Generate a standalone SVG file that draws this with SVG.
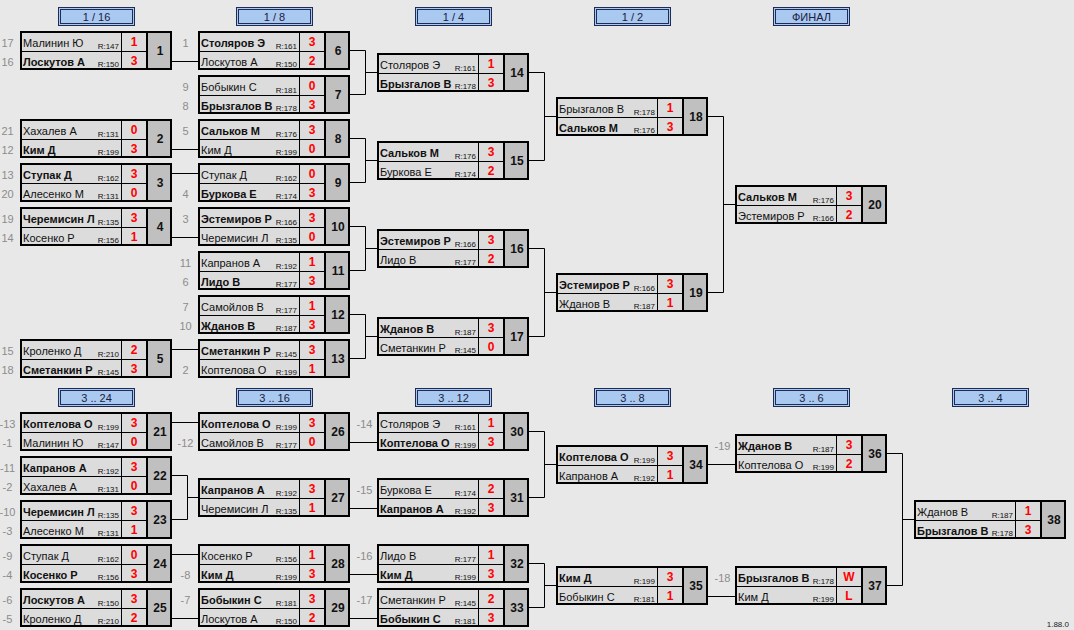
<svg xmlns="http://www.w3.org/2000/svg" xmlns:xlink="http://www.w3.org/1999/xlink" width="1074" height="630" viewBox="0 0 1074 630">
<style>
text{font-family:"Liberation Sans",Arial,sans-serif}
.n{font-size:11px;fill:#111}
.b{font-weight:bold}
.r{font-size:8px;fill:#111;text-anchor:end}
.s{font-size:12px;font-weight:bold;fill:#ff0000;text-anchor:middle}
.k{font-size:12px;font-weight:bold;fill:#111;text-anchor:middle}
.sd{font-size:11px;fill:#8c8c8c;text-anchor:middle}
.h{font-size:11px;fill:#1a2040;text-anchor:middle}
.con{fill:none;stroke:#000;stroke-width:1}
.ho{fill:#a9c9f0;stroke:#1e2c55;stroke-width:1}
.hi{fill:none;stroke:#1e2c55;stroke-width:1}
</style>
<defs>
<g id="box">
<rect x="0" y="0" width="127" height="39" fill="#dcdcdc"/>
<rect x="127" y="0" width="25" height="39" fill="#c0c0c0"/>
<path d="M101.5 0V39M0 20.5H127" stroke="#000" stroke-width="1"/>
<path d="M127 0V39" stroke="#000" stroke-width="2"/>
<rect x="1" y="1" width="150" height="37" fill="none" stroke="#000" stroke-width="2"/>
</g>
<g id="hdr">
<rect class="ho" x="0.5" y="0.5" width="76" height="18"/>
<rect class="hi" x="2.5" y="2.5" width="72" height="14"/>
</g>
</defs>
<rect x="0" y="0" width="1074" height="630" fill="#e8e8e8"/>

<g id="headers">
<g transform="translate(58,7)"><use href="#hdr"/><text class="h" x="38.5" y="13.5">1 / 16</text></g>
<g transform="translate(236,7)"><use href="#hdr"/><text class="h" x="38.5" y="13.5">1 / 8</text></g>
<g transform="translate(415,7)"><use href="#hdr"/><text class="h" x="38.5" y="13.5">1 / 4</text></g>
<g transform="translate(594,7)"><use href="#hdr"/><text class="h" x="38.5" y="13.5">1 / 2</text></g>
<g transform="translate(773,7)"><use href="#hdr"/><text class="h" x="38.5" y="13.5">ФИНАЛ</text></g>
<g transform="translate(58,388)"><use href="#hdr"/><text class="h" x="38.5" y="13.5">3 .. 24</text></g>
<g transform="translate(236,388)"><use href="#hdr"/><text class="h" x="38.5" y="13.5">3 .. 16</text></g>
<g transform="translate(415,388)"><use href="#hdr"/><text class="h" x="38.5" y="13.5">3 .. 12</text></g>
<g transform="translate(594,388)"><use href="#hdr"/><text class="h" x="38.5" y="13.5">3 .. 8</text></g>
<g transform="translate(773,388)"><use href="#hdr"/><text class="h" x="38.5" y="13.5">3 .. 6</text></g>
<g transform="translate(952,388)"><use href="#hdr"/><text class="h" x="38.5" y="13.5">3 .. 4</text></g>
</g>

<g id="connectors">
<path class="con" d="M172 61.5H198M172 149.5H198M172 173.5H198M172 237.5H198M172 349.5H198"/>
<path class="con" d="M350 50.5H365.5V94.5H350M365.5 72.5H377M350 138.5H365.5V182.5H350M365.5 160.5H377M350 226.5H365.5V270.5H350M365.5 248.5H377M350 314.5H365.5V358.5H350M365.5 336.5H377"/>
<path class="con" d="M529 72.5H544.5V160.5H529M544.5 116.5H556M529 248.5H544.5V336.5H529M544.5 292.5H556"/>
<path class="con" d="M708 116.5H723.5V292.5H708M723.5 204.5H735"/>
<path class="con" d="M172 422.5H198M172 475.5H187.5V519.5H172M187.5 497.5H198M172 554.5H198M172 618.5H198"/>
<path class="con" d="M350 442.5H377M350 508.5H377M350 574.5H377M350 618.5H377"/>
<path class="con" d="M529 431.5H544.5V497.5H529M544.5 464.5H556M529 563.5H544.5V607.5H529M544.5 585.5H556"/>
<path class="con" d="M708 464.5H735M708 596.5H735"/>
<path class="con" d="M887 453.5H902.5V585.5H887M902.5 519.5H914"/>
</g>

<g id="m1" transform="translate(20,31)"><use href="#box"/>
<text class="sd" x="-12.5" y="15.5">17</text><text class="sd" x="-12.5" y="34.5">16</text>
<text class="n" x="3" y="15.5">Малинин Ю</text><text class="r" x="99" y="17.5">R:147</text><text class="s" x="114" y="15">1</text>
<text class="n b" x="3" y="34.5">Лоскутов А</text><text class="r" x="99" y="36">R:150</text><text class="s" x="114" y="34">3</text>
<text class="k" x="140" y="24">1</text></g>

<g id="m2" transform="translate(20,119)"><use href="#box"/>
<text class="sd" x="-12.5" y="15.5">21</text><text class="sd" x="-12.5" y="34.5">12</text>
<text class="n" x="3" y="15.5">Хахалев А</text><text class="r" x="99" y="17.5">R:131</text><text class="s" x="114" y="15">0</text>
<text class="n b" x="3" y="34.5">Ким Д</text><text class="r" x="99" y="36">R:199</text><text class="s" x="114" y="34">3</text>
<text class="k" x="140" y="24">2</text></g>

<g id="m3" transform="translate(20,163)"><use href="#box"/>
<text class="sd" x="-12.5" y="15.5">13</text><text class="sd" x="-12.5" y="34.5">20</text>
<text class="n b" x="3" y="15.5">Ступак Д</text><text class="r" x="99" y="17.5">R:162</text><text class="s" x="114" y="15">3</text>
<text class="n" x="3" y="34.5">Алесенко М</text><text class="r" x="99" y="36">R:131</text><text class="s" x="114" y="34">0</text>
<text class="k" x="140" y="24">3</text></g>

<g id="m4" transform="translate(20,207)"><use href="#box"/>
<text class="sd" x="-12.5" y="15.5">19</text><text class="sd" x="-12.5" y="34.5">14</text>
<text class="n b" x="3" y="15.5">Черемисин Л</text><text class="r" x="99" y="17.5">R:135</text><text class="s" x="114" y="15">3</text>
<text class="n" x="3" y="34.5">Косенко Р</text><text class="r" x="99" y="36">R:156</text><text class="s" x="114" y="34">1</text>
<text class="k" x="140" y="24">4</text></g>

<g id="m5" transform="translate(20,339)"><use href="#box"/>
<text class="sd" x="-12.5" y="15.5">15</text><text class="sd" x="-12.5" y="34.5">18</text>
<text class="n" x="3" y="15.5">Кроленко Д</text><text class="r" x="99" y="17.5">R:210</text><text class="s" x="114" y="15">2</text>
<text class="n b" x="3" y="34.5">Сметанкин Р</text><text class="r" x="99" y="36">R:145</text><text class="s" x="114" y="34">3</text>
<text class="k" x="140" y="24">5</text></g>

<g id="m6" transform="translate(198,31)"><use href="#box"/>
<text class="sd" x="-12.5" y="15.5">1</text>
<text class="n b" x="3" y="15.5">Столяров Э</text><text class="r" x="99" y="17.5">R:161</text><text class="s" x="114" y="15">3</text>
<text class="n" x="3" y="34.5">Лоскутов А</text><text class="r" x="99" y="36">R:150</text><text class="s" x="114" y="34">2</text>
<text class="k" x="140" y="24">6</text></g>

<g id="m7" transform="translate(198,75)"><use href="#box"/>
<text class="sd" x="-12.5" y="15.5">9</text><text class="sd" x="-12.5" y="34.5">8</text>
<text class="n" x="3" y="15.5">Бобыкин С</text><text class="r" x="99" y="17.5">R:181</text><text class="s" x="114" y="15">0</text>
<text class="n b" x="3" y="34.5">Брызгалов В</text><text class="r" x="99" y="36">R:178</text><text class="s" x="114" y="34">3</text>
<text class="k" x="140" y="24">7</text></g>

<g id="m8" transform="translate(198,119)"><use href="#box"/>
<text class="sd" x="-12.5" y="15.5">5</text>
<text class="n b" x="3" y="15.5">Сальков М</text><text class="r" x="99" y="17.5">R:176</text><text class="s" x="114" y="15">3</text>
<text class="n" x="3" y="34.5">Ким Д</text><text class="r" x="99" y="36">R:199</text><text class="s" x="114" y="34">0</text>
<text class="k" x="140" y="24">8</text></g>

<g id="m9" transform="translate(198,163)"><use href="#box"/>
<text class="sd" x="-12.5" y="34.5">4</text>
<text class="n" x="3" y="15.5">Ступак Д</text><text class="r" x="99" y="17.5">R:162</text><text class="s" x="114" y="15">0</text>
<text class="n b" x="3" y="34.5">Буркова Е</text><text class="r" x="99" y="36">R:174</text><text class="s" x="114" y="34">3</text>
<text class="k" x="140" y="24">9</text></g>

<g id="m10" transform="translate(198,207)"><use href="#box"/>
<text class="sd" x="-12.5" y="15.5">3</text>
<text class="n b" x="3" y="15.5">Эстемиров Р</text><text class="r" x="99" y="17.5">R:166</text><text class="s" x="114" y="15">3</text>
<text class="n" x="3" y="34.5">Черемисин Л</text><text class="r" x="99" y="36">R:135</text><text class="s" x="114" y="34">0</text>
<text class="k" x="140" y="24">10</text></g>

<g id="m11" transform="translate(198,251)"><use href="#box"/>
<text class="sd" x="-12.5" y="15.5">11</text><text class="sd" x="-12.5" y="34.5">6</text>
<text class="n" x="3" y="15.5">Капранов А</text><text class="r" x="99" y="17.5">R:192</text><text class="s" x="114" y="15">1</text>
<text class="n b" x="3" y="34.5">Лидо В</text><text class="r" x="99" y="36">R:177</text><text class="s" x="114" y="34">3</text>
<text class="k" x="140" y="24">11</text></g>

<g id="m12" transform="translate(198,295)"><use href="#box"/>
<text class="sd" x="-12.5" y="15.5">7</text><text class="sd" x="-12.5" y="34.5">10</text>
<text class="n" x="3" y="15.5">Самойлов В</text><text class="r" x="99" y="17.5">R:177</text><text class="s" x="114" y="15">1</text>
<text class="n b" x="3" y="34.5">Жданов В</text><text class="r" x="99" y="36">R:187</text><text class="s" x="114" y="34">3</text>
<text class="k" x="140" y="24">12</text></g>

<g id="m13" transform="translate(198,339)"><use href="#box"/>
<text class="sd" x="-12.5" y="34.5">2</text>
<text class="n b" x="3" y="15.5">Сметанкин Р</text><text class="r" x="99" y="17.5">R:145</text><text class="s" x="114" y="15">3</text>
<text class="n" x="3" y="34.5">Коптелова О</text><text class="r" x="99" y="36">R:199</text><text class="s" x="114" y="34">1</text>
<text class="k" x="140" y="24">13</text></g>

<g id="m14" transform="translate(377,53)"><use href="#box"/>
<text class="n" x="3" y="15.5">Столяров Э</text><text class="r" x="99" y="17.5">R:161</text><text class="s" x="114" y="15">1</text>
<text class="n b" x="3" y="34.5">Брызгалов В</text><text class="r" x="99" y="36">R:178</text><text class="s" x="114" y="34">3</text>
<text class="k" x="140" y="24">14</text></g>

<g id="m15" transform="translate(377,141)"><use href="#box"/>
<text class="n b" x="3" y="15.5">Сальков М</text><text class="r" x="99" y="17.5">R:176</text><text class="s" x="114" y="15">3</text>
<text class="n" x="3" y="34.5">Буркова Е</text><text class="r" x="99" y="36">R:174</text><text class="s" x="114" y="34">2</text>
<text class="k" x="140" y="24">15</text></g>

<g id="m16" transform="translate(377,229)"><use href="#box"/>
<text class="n b" x="3" y="15.5">Эстемиров Р</text><text class="r" x="99" y="17.5">R:166</text><text class="s" x="114" y="15">3</text>
<text class="n" x="3" y="34.5">Лидо В</text><text class="r" x="99" y="36">R:177</text><text class="s" x="114" y="34">2</text>
<text class="k" x="140" y="24">16</text></g>

<g id="m17" transform="translate(377,317)"><use href="#box"/>
<text class="n b" x="3" y="15.5">Жданов В</text><text class="r" x="99" y="17.5">R:187</text><text class="s" x="114" y="15">3</text>
<text class="n" x="3" y="34.5">Сметанкин Р</text><text class="r" x="99" y="36">R:145</text><text class="s" x="114" y="34">0</text>
<text class="k" x="140" y="24">17</text></g>

<g id="m18" transform="translate(556,97)"><use href="#box"/>
<text class="n" x="3" y="15.5">Брызгалов В</text><text class="r" x="99" y="17.5">R:178</text><text class="s" x="114" y="15">1</text>
<text class="n b" x="3" y="34.5">Сальков М</text><text class="r" x="99" y="36">R:176</text><text class="s" x="114" y="34">3</text>
<text class="k" x="140" y="24">18</text></g>

<g id="m19" transform="translate(556,273)"><use href="#box"/>
<text class="n b" x="3" y="15.5">Эстемиров Р</text><text class="r" x="99" y="17.5">R:166</text><text class="s" x="114" y="15">3</text>
<text class="n" x="3" y="34.5">Жданов В</text><text class="r" x="99" y="36">R:187</text><text class="s" x="114" y="34">1</text>
<text class="k" x="140" y="24">19</text></g>

<g id="m20" transform="translate(735,185)"><use href="#box"/>
<text class="n b" x="3" y="15.5">Сальков М</text><text class="r" x="99" y="17.5">R:176</text><text class="s" x="114" y="15">3</text>
<text class="n" x="3" y="34.5">Эстемиров Р</text><text class="r" x="99" y="36">R:166</text><text class="s" x="114" y="34">2</text>
<text class="k" x="140" y="24">20</text></g>

<g id="m21" transform="translate(20,412)"><use href="#box"/>
<text class="sd" x="-12.5" y="15.5">-13</text><text class="sd" x="-12.5" y="34.5">-1</text>
<text class="n b" x="3" y="15.5">Коптелова О</text><text class="r" x="99" y="17.5">R:199</text><text class="s" x="114" y="15">3</text>
<text class="n" x="3" y="34.5">Малинин Ю</text><text class="r" x="99" y="36">R:147</text><text class="s" x="114" y="34">0</text>
<text class="k" x="140" y="24">21</text></g>

<g id="m22" transform="translate(20,456)"><use href="#box"/>
<text class="sd" x="-12.5" y="15.5">-11</text><text class="sd" x="-12.5" y="34.5">-2</text>
<text class="n b" x="3" y="15.5">Капранов А</text><text class="r" x="99" y="17.5">R:192</text><text class="s" x="114" y="15">3</text>
<text class="n" x="3" y="34.5">Хахалев А</text><text class="r" x="99" y="36">R:131</text><text class="s" x="114" y="34">0</text>
<text class="k" x="140" y="24">22</text></g>

<g id="m23" transform="translate(20,500)"><use href="#box"/>
<text class="sd" x="-12.5" y="15.5">-10</text><text class="sd" x="-12.5" y="34.5">-3</text>
<text class="n b" x="3" y="15.5">Черемисин Л</text><text class="r" x="99" y="17.5">R:135</text><text class="s" x="114" y="15">3</text>
<text class="n" x="3" y="34.5">Алесенко М</text><text class="r" x="99" y="36">R:131</text><text class="s" x="114" y="34">1</text>
<text class="k" x="140" y="24">23</text></g>

<g id="m24" transform="translate(20,544)"><use href="#box"/>
<text class="sd" x="-12.5" y="15.5">-9</text><text class="sd" x="-12.5" y="34.5">-4</text>
<text class="n" x="3" y="15.5">Ступак Д</text><text class="r" x="99" y="17.5">R:162</text><text class="s" x="114" y="15">0</text>
<text class="n b" x="3" y="34.5">Косенко Р</text><text class="r" x="99" y="36">R:156</text><text class="s" x="114" y="34">3</text>
<text class="k" x="140" y="24">24</text></g>

<g id="m25" transform="translate(20,588)"><use href="#box"/>
<text class="sd" x="-12.5" y="15.5">-6</text><text class="sd" x="-12.5" y="34.5">-5</text>
<text class="n b" x="3" y="15.5">Лоскутов А</text><text class="r" x="99" y="17.5">R:150</text><text class="s" x="114" y="15">3</text>
<text class="n" x="3" y="34.5">Кроленко Д</text><text class="r" x="99" y="36">R:210</text><text class="s" x="114" y="34">2</text>
<text class="k" x="140" y="24">25</text></g>

<g id="m26" transform="translate(198,412)"><use href="#box"/>
<text class="sd" x="-12.5" y="34.5">-12</text>
<text class="n b" x="3" y="15.5">Коптелова О</text><text class="r" x="99" y="17.5">R:199</text><text class="s" x="114" y="15">3</text>
<text class="n" x="3" y="34.5">Самойлов В</text><text class="r" x="99" y="36">R:177</text><text class="s" x="114" y="34">0</text>
<text class="k" x="140" y="24">26</text></g>

<g id="m27" transform="translate(198,478)"><use href="#box"/>
<text class="n b" x="3" y="15.5">Капранов А</text><text class="r" x="99" y="17.5">R:192</text><text class="s" x="114" y="15">3</text>
<text class="n" x="3" y="34.5">Черемисин Л</text><text class="r" x="99" y="36">R:135</text><text class="s" x="114" y="34">1</text>
<text class="k" x="140" y="24">27</text></g>

<g id="m28" transform="translate(198,544)"><use href="#box"/>
<text class="sd" x="-12.5" y="34.5">-8</text>
<text class="n" x="3" y="15.5">Косенко Р</text><text class="r" x="99" y="17.5">R:156</text><text class="s" x="114" y="15">1</text>
<text class="n b" x="3" y="34.5">Ким Д</text><text class="r" x="99" y="36">R:199</text><text class="s" x="114" y="34">3</text>
<text class="k" x="140" y="24">28</text></g>

<g id="m29" transform="translate(198,588)"><use href="#box"/>
<text class="sd" x="-12.5" y="15.5">-7</text>
<text class="n b" x="3" y="15.5">Бобыкин С</text><text class="r" x="99" y="17.5">R:181</text><text class="s" x="114" y="15">3</text>
<text class="n" x="3" y="34.5">Лоскутов А</text><text class="r" x="99" y="36">R:150</text><text class="s" x="114" y="34">2</text>
<text class="k" x="140" y="24">29</text></g>

<g id="m30" transform="translate(377,412)"><use href="#box"/>
<text class="sd" x="-12.5" y="15.5">-14</text>
<text class="n" x="3" y="15.5">Столяров Э</text><text class="r" x="99" y="17.5">R:161</text><text class="s" x="114" y="15">1</text>
<text class="n b" x="3" y="34.5">Коптелова О</text><text class="r" x="99" y="36">R:199</text><text class="s" x="114" y="34">3</text>
<text class="k" x="140" y="24">30</text></g>

<g id="m31" transform="translate(377,478)"><use href="#box"/>
<text class="sd" x="-12.5" y="15.5">-15</text>
<text class="n" x="3" y="15.5">Буркова Е</text><text class="r" x="99" y="17.5">R:174</text><text class="s" x="114" y="15">2</text>
<text class="n b" x="3" y="34.5">Капранов А</text><text class="r" x="99" y="36">R:192</text><text class="s" x="114" y="34">3</text>
<text class="k" x="140" y="24">31</text></g>

<g id="m32" transform="translate(377,544)"><use href="#box"/>
<text class="sd" x="-12.5" y="15.5">-16</text>
<text class="n" x="3" y="15.5">Лидо В</text><text class="r" x="99" y="17.5">R:177</text><text class="s" x="114" y="15">1</text>
<text class="n b" x="3" y="34.5">Ким Д</text><text class="r" x="99" y="36">R:199</text><text class="s" x="114" y="34">3</text>
<text class="k" x="140" y="24">32</text></g>

<g id="m33" transform="translate(377,588)"><use href="#box"/>
<text class="sd" x="-12.5" y="15.5">-17</text>
<text class="n" x="3" y="15.5">Сметанкин Р</text><text class="r" x="99" y="17.5">R:145</text><text class="s" x="114" y="15">2</text>
<text class="n b" x="3" y="34.5">Бобыкин С</text><text class="r" x="99" y="36">R:181</text><text class="s" x="114" y="34">3</text>
<text class="k" x="140" y="24">33</text></g>

<g id="m34" transform="translate(556,445)"><use href="#box"/>
<text class="n b" x="3" y="15.5">Коптелова О</text><text class="r" x="99" y="17.5">R:199</text><text class="s" x="114" y="15">3</text>
<text class="n" x="3" y="34.5">Капранов А</text><text class="r" x="99" y="36">R:192</text><text class="s" x="114" y="34">1</text>
<text class="k" x="140" y="24">34</text></g>

<g id="m35" transform="translate(556,566)"><use href="#box"/>
<text class="n b" x="3" y="15.5">Ким Д</text><text class="r" x="99" y="17.5">R:199</text><text class="s" x="114" y="15">3</text>
<text class="n" x="3" y="34.5">Бобыкин С</text><text class="r" x="99" y="36">R:181</text><text class="s" x="114" y="34">1</text>
<text class="k" x="140" y="24">35</text></g>

<g id="m36" transform="translate(735,434)"><use href="#box"/>
<text class="sd" x="-12.5" y="15.5">-19</text>
<text class="n b" x="3" y="15.5">Жданов В</text><text class="r" x="99" y="17.5">R:187</text><text class="s" x="114" y="15">3</text>
<text class="n" x="3" y="34.5">Коптелова О</text><text class="r" x="99" y="36">R:199</text><text class="s" x="114" y="34">2</text>
<text class="k" x="140" y="24">36</text></g>

<g id="m37" transform="translate(735,566)"><use href="#box"/>
<text class="sd" x="-12.5" y="15.5">-18</text>
<text class="n b" x="3" y="15.5">Брызгалов В</text><text class="r" x="99" y="17.5">R:178</text><text class="s" x="114" y="15">W</text>
<text class="n" x="3" y="34.5">Ким Д</text><text class="r" x="99" y="36">R:199</text><text class="s" x="114" y="34">L</text>
<text class="k" x="140" y="24">37</text></g>

<g id="m38" transform="translate(914,500)"><use href="#box"/>
<text class="n" x="3" y="15.5">Жданов В</text><text class="r" x="99" y="17.5">R:187</text><text class="s" x="114" y="15">1</text>
<text class="n b" x="3" y="34.5">Брызгалов В</text><text class="r" x="99" y="36">R:178</text><text class="s" x="114" y="34">3</text>
<text class="k" x="140" y="24">38</text></g>

<text x="1069" y="627" font-size="8" fill="#222" text-anchor="end">1.88.0</text>
</svg>
